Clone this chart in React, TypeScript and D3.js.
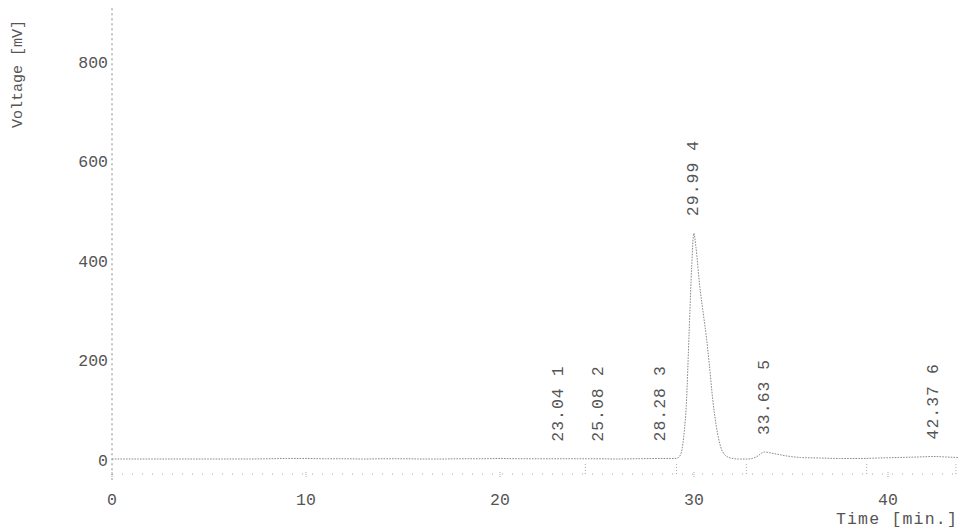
import React from "react";
import * as d3 from "d3";

const times = [0, 1, 2, 3, 4, 5, 6, 7, 8, 9, 10, 11, 12, 13, 14, 15, 16, 17, 18, 19, 20, 21, 22, 23.04, 24, 25.08, 26, 27, 28.28, 29.0, 29.2, 29.35, 29.5, 29.6, 29.75, 29.88, 29.99, 30.1, 30.3, 30.5, 30.65, 30.8, 30.97, 31.15, 31.38, 31.6, 31.9, 32.3, 32.8, 33.2, 33.63, 34.1, 34.8, 35.5, 36.5, 37.5, 38.5, 39.5, 40.5, 41.5, 42.37, 43, 43.6];
const voltages = [4, 4, 4, 4, 4, 4, 4, 4, 4.5, 5, 5, 4.5, 4.5, 4, 4.5, 4.5, 4, 4, 4.5, 4.5, 5, 4.5, 4.5, 4.5, 4.5, 4.5, 4, 4.5, 5, 5, 7, 18, 60, 110, 260, 390, 458, 430, 350, 290, 245, 190, 122, 70, 28, 12, 6, 4, 4, 8, 18, 15, 10, 7, 6, 5, 5, 6, 7, 8, 9, 8, 7];

const peakTimes = [23.04, 25.08, 28.28, 29.99, 33.63, 42.37];
const peakHeights = [4.5, 4.5, 5, 458, 18, 9];
const peakLabels = ["23.04 1", "25.08 2", "28.28 3", "29.99 4", "33.63 5", "42.37 6"];

const yTicks = [0, 200, 400, 600, 800];
const xTicks = [0, 10, 20, 30, 40];
const eventTimes = [24.4, 29.1, 32.7, 38.9, 43.5];

const W = 962;
const H = 531;
const FONT = "'Liberation Mono', 'DejaVu Sans Mono', monospace";
const TEXT = "#555";

export default function App() {
  const x = d3.scaleLinear().domain([0, 40]).range([112, 888]);
  const y = d3.scaleLinear().domain([0, 800]).range([461, 63]);
  const data = times.map((t, i) => [t, voltages[i]] as [number, number]);
  const line = d3
    .line<[number, number]>()
    .x((d) => x(d[0]))
    .y((d) => y(d[1]))
    .curve(d3.curveMonotoneX);
  const axisY = y(0) + 13;
  return (
    <svg
      width={W}
      height={H}
      style={{ position: "absolute", left: 0, top: 0, background: "#fff" }}
      fontFamily={FONT}
    >
      {/* y axis */}
      <line
        x1={x(0)}
        x2={x(0)}
        y1={y(910)}
        y2={axisY + 6}
        stroke="#888"
        strokeWidth={1}
        strokeDasharray="2 3"
      />
      {yTicks.map((v) => (
        <text
          key={"yt" + v}
          x={x(0) - 4}
          y={y(v)}
          textAnchor="end"
          dominantBaseline="central"
          fontSize={16.5}
          fill={TEXT}
        >
          {v}
        </text>
      ))}
      <text
        transform={`translate(18, 74) rotate(-90)`}
        textAnchor="middle"
        dominantBaseline="central"
        fontSize={15}
        fill={TEXT}
      >
        Voltage [mV]
      </text>

      {/* x axis */}
      <line
        x1={x(0)}
        x2={x(43.6)}
        y1={axisY}
        y2={axisY}
        stroke="#aaa"
        strokeWidth={1}
        strokeDasharray="1 9"
      />
      {xTicks.map((v) => (
        <g key={"xt" + v}>
          <line x1={x(v)} x2={x(v)} y1={axisY - 2} y2={axisY + 4} stroke="#aaa" strokeDasharray="1 1" />
          <text
            x={x(v)}
            y={axisY + 26}
            textAnchor="middle"
            dominantBaseline="central"
            fontSize={16.5}
            fill={TEXT}
          >
            {v}
          </text>
        </g>
      ))}
      <text
        x={958}
        y={axisY + 45}
        textAnchor="end"
        dominantBaseline="central"
        fontSize={16.5}
        letterSpacing={1.2}
        fill={TEXT}
      >
        Time [min.]
      </text>

      {/* event markers */}
      {eventTimes.map((t, i) => (
        <line
          key={"ev" + i}
          x1={x(t)}
          x2={x(t)}
          y1={y(0) + 3}
          y2={y(0) + 14}
          stroke="#aaa"
          strokeDasharray="1 2"
        />
      ))}

      {/* trace */}
      <path
        d={line(data) || ""}
        fill="none"
        stroke="#8a8a8a"
        strokeWidth={1}
        strokeDasharray="1.6 1.2"
      />

      {/* peak labels */}
      {peakTimes.map((t, i) => (
        <text
          key={"pk" + i}
          transform={`translate(${x(t)}, ${y(peakHeights[i]) - 17}) rotate(-90)`}
          textAnchor="start"
          dominantBaseline="central"
          fontSize={16.5}
          letterSpacing={1}
          fill={TEXT}
        >
          {peakLabels[i]}
        </text>
      ))}
    </svg>
  );
}
